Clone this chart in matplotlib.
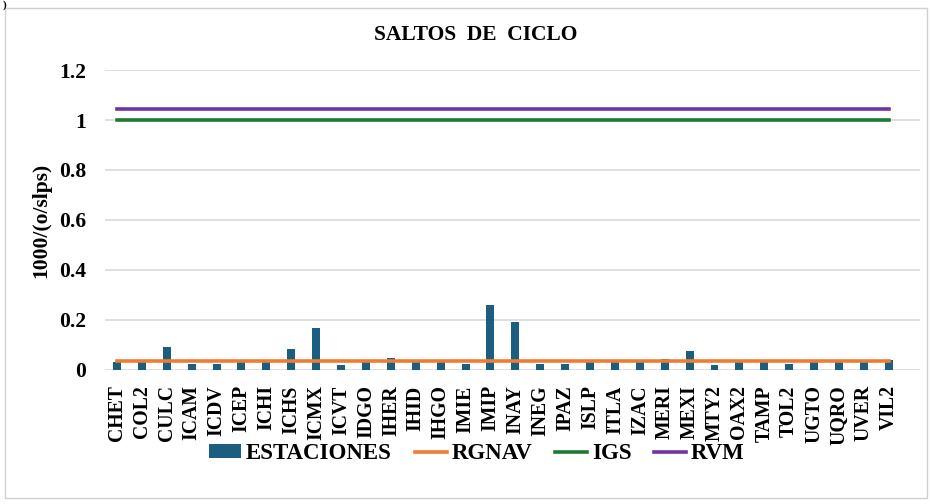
import matplotlib.pyplot as plt
import numpy as np
from matplotlib.patches import Rectangle

stations = ['CHET', 'COL2', 'CULC', 'ICAM', 'ICDV', 'ICEP', 'ICHI', 'ICHS',
            'ICMX', 'ICVT', 'IDGO', 'IHER', 'IHID', 'IHGO', 'IMIE', 'IMIP',
            'INAY', 'INEG', 'IPAZ', 'ISLP', 'ITLA', 'IZAC', 'MERI', 'MEXI',
            'MTY2', 'OAX2', 'TAMP', 'TOL2', 'UGTO', 'UQRO', 'UVER', 'VIL2']
estaciones = [0.033, 0.03, 0.091, 0.023, 0.023, 0.03, 0.03, 0.084,
              0.167, 0.02, 0.03, 0.049, 0.03, 0.03, 0.023, 0.26,
              0.19, 0.023, 0.023, 0.03, 0.03, 0.03, 0.045, 0.076,
              0.02, 0.03, 0.03, 0.025, 0.03, 0.03, 0.03, 0.039]
rgnav = 0.035
igs = 1.0
rvm = 1.043

plt.rcParams['font.family'] = ['Liberation Serif', 'DejaVu Serif']
plt.rcParams['font.weight'] = 'bold'

fig = plt.figure(figsize=(9.3, 5.04), dpi=100)
ax = fig.add_axes([0.1124, 0.2659, 0.877, 0.5952])

x = np.arange(len(stations))
b = ax.bar(x, estaciones, width=0.32, color='#1b5e80', zorder=2)
l1, = ax.plot(x, [rgnav] * len(x), color='#f07c31', lw=2.6, zorder=3)
l2, = ax.plot(x, [igs] * len(x), color='#1e7a35', lw=2.6, zorder=3)
l3, = ax.plot(x, [rvm] * len(x), color='#7232a3', lw=2.6, zorder=3)

ax.set_xlim(-0.5, len(stations) + 0.26)
ax.set_ylim(0, 1.2)
ax.set_yticks([0, 0.2, 0.4, 0.6, 0.8, 1.0, 1.2])
ax.set_yticklabels(['0', '0.2', '0.4', '0.6', '0.8', '1', '1.2'])
ax.set_xticks(x)
ax.set_xticklabels(stations, rotation=90)
ax.tick_params(axis='both', length=0)
ax.tick_params(axis='x', labelsize=14.2, pad=11)
ax.tick_params(axis='y', labelsize=15.5, pad=13)
ax.grid(axis='y', color='#d9d9d9', lw=1.2, zorder=0)
for s in ax.spines.values():
    s.set_visible(False)

ax.set_ylabel('1000/(o/slps)', fontsize=15.5, fontweight='bold', labelpad=6)
fig.text(0.512, 0.93, 'SALTOS  DE  CICLO', fontsize=15.5, fontweight='bold',
         ha='center', va='center')

fig.legend([b, l1, l2, l3], ['ESTACIONES', 'RGNAV', 'IGS', 'RVM'],
           loc='center', bbox_to_anchor=(0.513, 0.1), ncol=4, frameon=False,
           prop={'size': 16.5, 'weight': 'bold'}, handlelength=1.4,
           handleheight=0.55, columnspacing=1.0, handletextpad=0.2)

fig.patches.append(Rectangle((0.0055, 0.012), 0.9915, 0.972, transform=fig.transFigure,
                             fill=False, edgecolor='#d0d0d0', lw=1))
fig.text(0.003, 0.999, ')', fontsize=8, ha='left', va='top')

fig.savefig('out.png', dpi=100)
